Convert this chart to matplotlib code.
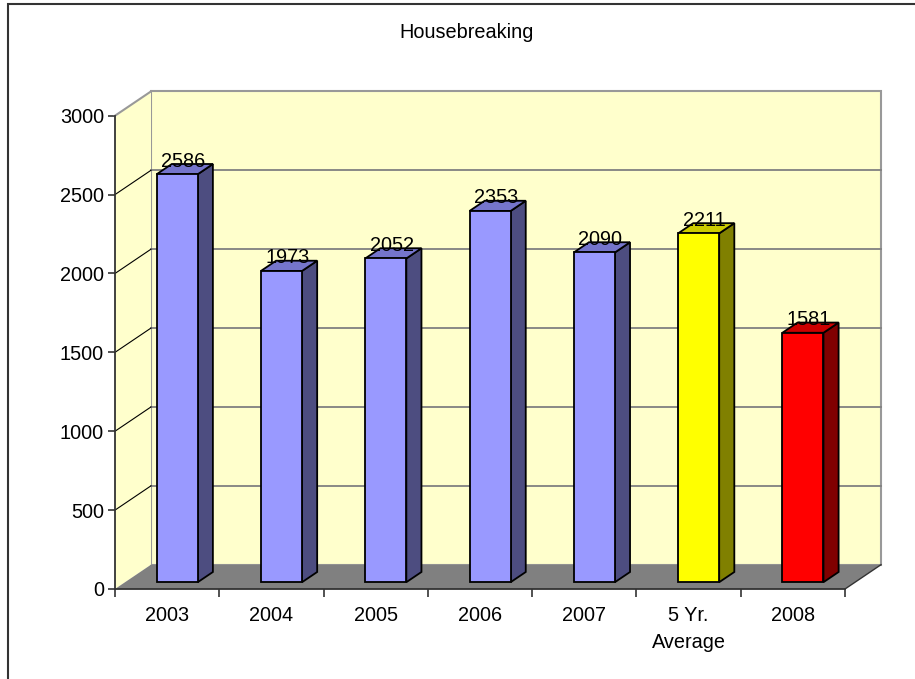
"""
Housebreaking counts by year -- Excel-style 3D column chart redone in matplotlib.
"""

import matplotlib
matplotlib.use("Agg")
import matplotlib.pyplot as plt
import matplotlib.patches as mpatches
import matplotlib.transforms as mtransforms

# ---- data ----
CATEGORIES = ["2003", "2004", "2005", "2006", "2007", "5 Yr.\nAverage", "2008"]
VALUES     = [2586, 1973, 2052, 2353, 2090, 2211, 1581]
Y_TICKS    = [0, 500, 1000, 1500, 2000, 2500, 3000]
TITLE      = "Housebreaking"

# ---- styles ----
FONT = "Liberation Sans"
FS   = 14.3
# (front, top, side) shades per bar
BLUE   = ("#9999FF", "#7575CC", "#4D4D80")
YELLOW = ("#FFFF00", "#CCCC00", "#808000")
RED    = ("#FF0000", "#CC0000", "#800000")
BAR_SHADES = [BLUE, BLUE, BLUE, BLUE, BLUE, YELLOW, RED]

WALL  = "#FFFFCC"
FLOOR = "#808080"
GRID  = "#808080"

# depth of the 3D box in pixels (display coords, y up)
DX, DY = 36.0, 24.3
BAR_D0, BAR_D1 = 0.28, 0.70      # bar front/back as fraction of depth
HALF_W = 0.197                   # half bar width in category units

W, H, DPI = 915, 679, 100
fig = plt.figure(figsize=(W / DPI, H / DPI), dpi=DPI)
fig.patch.set_facecolor("white")

# front plane of the box, placed in pixels
left, right, bottom, top = 115, 845, 589, 115.7
ax = fig.add_axes([left / W, (H - bottom) / H, (right - left) / W, (bottom - top) / H])
ax.set_xlim(0, len(CATEGORIES))
ax.set_ylim(0, Y_TICKS[-1])
ax.patch.set_visible(False)
for s in ("top", "right"):
    ax.spines[s].set_visible(False)
for s in ("left", "bottom"):
    ax.spines[s].set_color("#333333")
    ax.spines[s].set_linewidth(1.3)
    ax.spines[s].set_zorder(10)

ident = mtransforms.IdentityTransform()


def P(x, y, d):
    """data point on the front plane pushed back by depth fraction d -> pixels"""
    px, py = ax.transData.transform((x, y))
    return (px + d * DX, py + d * DY)


def poly(pts, fc, ec, lw=1.0, z=1):
    ax.add_patch(mpatches.Polygon(pts, closed=True, facecolor=fc, edgecolor=ec,
                                  linewidth=lw, transform=ident, clip_on=False,
                                  zorder=z))


def line(p, q, color, lw=1.0, z=2):
    ax.add_line(plt.Line2D([p[0], q[0]], [p[1], q[1]], color=color, lw=lw,
                           transform=ident, clip_on=False, zorder=z))


n = len(CATEGORIES)
ymax = Y_TICKS[-1]

# back wall, left wall, floor
poly([P(0, 0, 1), P(n, 0, 1), P(n, ymax, 1), P(0, ymax, 1)], WALL, "#999999", 1.5, 1)
poly([P(0, 0, 0), P(0, 0, 1), P(0, ymax, 1), P(0, ymax, 0)], WALL, "none", 1.0, 1)
line(P(0, ymax, 0), P(0, ymax, 1), "#999999", 1.5, 2)
poly([P(0, 0, 0), P(n, 0, 0), P(n, 0, 1), P(0, 0, 1)], FLOOR, "none", 1.0, 3)
line(P(n, 0, 0), P(n, 0, 1), "#333333", 1.0, 3)

# gridlines: horizontal on back wall, diagonals on left wall
for t in Y_TICKS[1:-1]:
    line(P(0, t, 1), P(n, t, 1), GRID, 1.3, 2)
    line(P(0, t, 0), P(0, t, 1), "black", 0.8, 2)

# bars
for i, (v, (front, topc, side)) in enumerate(zip(VALUES, BAR_SHADES)):
    c = i + 0.5
    x0, x1 = c - HALF_W, c + HALF_W
    z = 5 + i
    poly([P(x1, 0, BAR_D0), P(x1, 0, BAR_D1), P(x1, v, BAR_D1), P(x1, v, BAR_D0)],
         side, "black", 1.3, z)
    poly([P(x0, v, BAR_D0), P(x1, v, BAR_D0), P(x1, v, BAR_D1), P(x0, v, BAR_D1)],
         topc, "black", 1.3, z)
    poly([P(x0, 0, BAR_D0), P(x1, 0, BAR_D0), P(x1, v, BAR_D0), P(x0, v, BAR_D0)],
         front, "black", 1.3, z)
    ax.annotate(f"{v}", xy=(c, v), xytext=(11.5, 14.4), textcoords="offset points",
                ha="center", va="center", fontsize=FS, family=FONT,
                color="black", zorder=20, annotation_clip=False)

# ticks
ax.set_yticks(Y_TICKS)
ax.set_yticklabels([str(t) for t in Y_TICKS], fontsize=FS, family=FONT)
ax.tick_params(axis="y", direction="out", length=5, width=1.2, color="#333333", pad=3)
ax.set_xticks(range(n + 1))
ax.set_xticklabels([])
ax.tick_params(axis="x", which="major", direction="out", length=5.5, width=1.2,
               color="#333333")
ax.set_xticks([i + 0.5 for i in range(n)], minor=True)
ax.set_xticklabels(CATEGORIES, minor=True, fontsize=FS, family=FONT,
                   linespacing=1.5)
ax.tick_params(axis="x", which="minor", length=0, pad=12.5)

# title
fig.text(467 / W, 1 - 33 / H, TITLE, ha="center", va="center",
         fontsize=FS, family=FONT)

# outer chart frame
fig.patches.append(mpatches.Rectangle((8 / W, -0.05), 1.2, 1 - 4 / H + 0.05,
                                      transform=fig.transFigure, fill=False,
                                      edgecolor="#333333", linewidth=1.5))

fig.savefig("out.png", dpi=DPI)
